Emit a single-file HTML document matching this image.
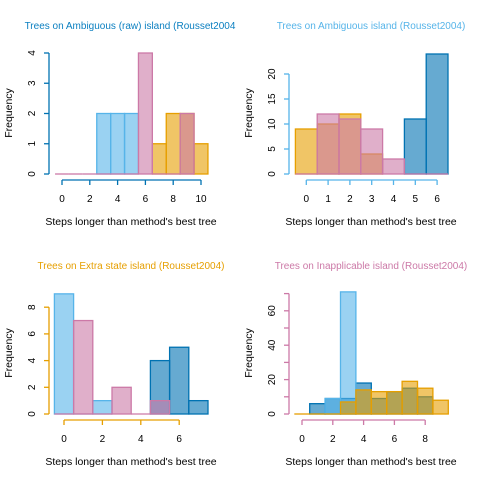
<!DOCTYPE html>
<html><head><meta charset="utf-8"><style>
body{margin:0;background:#fff}
svg text{font-family:"Liberation Sans",sans-serif;font-size:10px}
svg text.lab{font-size:10.5px}
</style></head><body>
<svg id="c" width="480" height="480" xmlns="http://www.w3.org/2000/svg"></svg>
<script>
// Panel 1: Ambiguous (raw)
const p1LightBlue=[null,null,null,2,2,2];
const p1DarkBlue=[];
const p1Orange=[null,null,null,null,null,null,null,1,2,2,1];
const p1Pink=[0,0,0,0,0,0,4,0,0,2];
// Panel 2: Ambiguous
const p2LightBlue=[];
const p2DarkBlue=[null,null,null,null,null,11,24];
const p2Orange=[9,10,12,4];
const p2Pink=[0,12,11,9,3,0,0];
// Panel 3: Extra state
const p3LightBlue=[9,0,1];
const p3DarkBlue=[null,null,null,null,null,4,5,1];
const p3Orange=[];
const p3Pink=[0,7,0,2,0,1];
// Panel 4: Inapplicable
const p4LightBlue=[null,null,9,71];
const p4DarkBlue=[null,6,9,9,18,9,13,15,10];
const p4Orange=[0,0,0,7,14,13,13,19,15,8];
const p4Pink=[];
const xTicks1=[0,2,4,6,8,10], yTicks1=[0,1,2,3,4], yLab1=[0,1,2,3,4];
const xTicks2=[0,1,2,3,4,5,6], yTicks2=[0,5,10,15,20], yLab2=[0,5,10,15,20];
const xTicks3=[0,2,4,6], yTicks3=[0,2,4,6,8], yLab3=[0,2,4,6,8];
const xTicks4=[0,2,4,6,8], yTicks4=[0,10,20,30,40,50,60,70], yLab4=[0,20,40,60];
const titles=["Trees on Ambiguous (raw) island (Rousset2004","Trees on Ambiguous island (Rousset2004)","Trees on Extra state island (Rousset2004)","Trees on Inapplicable island (Rousset2004)"];

const NS="http://www.w3.org/2000/svg";
const svg=document.getElementById('c');
function el(t,a,p){const e=document.createElementNS(NS,t);for(const k in a)e.setAttribute(k,a[k]);(p||svg).appendChild(e);return e;}
const SER=[["dark-blue","#0072B2","rgba(0,114,178,0.6)"],["light-blue","#56B4E9","rgba(86,180,233,0.6)"],["orange","#E69F00","rgba(230,159,0,0.6)"],["pink","#CC79A7","rgba(204,121,167,0.6)"]];
const panels=[
 {ox:0,oy:0,x0:62,sx:13.9,y0:174,sy:30.25,ax:"#0072B2",tc:"#0A7FC0",tx:130,xt:xTicks1,yt:yTicks1,yl:yLab1,xr:[0,10],yr:[0,4],data:[p1DarkBlue,p1LightBlue,p1Orange,p1Pink]},
 {ox:240,oy:0,x0:306.3,sx:21.8,y0:174,sy:5,ax:"#56B4E9",tc:"#56B4E9",tx:371,xt:xTicks2,yt:yTicks2,yl:yLab2,xr:[0,6],yr:[0,20],data:[p2DarkBlue,p2LightBlue,p2Orange,p2Pink]},
 {ox:0,oy:240,x0:64,sx:19.2,y0:414,sy:13.35,ax:"#E69F00",tc:"#E69F00",tx:131,xt:xTicks3,yt:yTicks3,yl:yLab3,xr:[0,6],yr:[0,8],data:[p3DarkBlue,p3LightBlue,p3Orange,p3Pink]},
 {ox:240,oy:240,x0:302,sx:15.4,y0:414,sy:1.72,ax:"#CC79A7",tc:"#CC79A7",tx:371,xt:xTicks4,yt:yTicks4,yl:yLab4,xr:[0,8],yr:[0,70],data:[p4DarkBlue,p4LightBlue,p4Orange,p4Pink]}
];
panels.forEach((p,i)=>{
 const g=el('g',{});
 
 
 const X=v=>p.x0+v*p.sx, Y=v=>p.y0-v*p.sy;
 const t=el('text',{x:p.tx,y:p.oy+29,'text-anchor':'middle',fill:p.tc},g);t.textContent=titles[i];
 
 p.data.forEach((arr,si)=>{
  arr.forEach((v,k)=>{
   if(v===null||v===undefined)return;
   let r;
   if(v===0){r=el('line',{x1:X(k-0.5),x2:X(k+0.5),y1:Y(0),y2:Y(0),stroke:SER[si][1],'stroke-width':1.3},g);}
   else r=el('rect',{x:X(k-0.5),y:Y(v),width:p.sx,height:v*p.sy,fill:SER[si][2],stroke:SER[si][1],'stroke-width':1.3},g);
   
   
  });
 });
 const ax=p.oy+180;
 const xa=el('g',{stroke:p.ax,'stroke-width':1.3,fill:'none'},g);
 
 el('line',{x1:X(p.xr[0]),x2:X(p.xr[1]),y1:ax,y2:ax},xa);
 p.xt.forEach(v=>{el('line',{x1:X(v),x2:X(v),y1:ax,y2:ax+5},xa);
  const tt=el('text',{x:X(v),y:ax+22,'text-anchor':'middle',fill:'#000',stroke:'none'},g);tt.textContent=v;
  });
 const ya=el('g',{stroke:p.ax,'stroke-width':1.3,fill:'none'},g);
 
 const yx=p.ox+49;
 el('line',{x1:yx,x2:yx,y1:Y(p.yr[0]),y2:Y(p.yr[1])},ya);
 p.yt.forEach(v=>el('line',{x1:yx,x2:yx-5,y1:Y(v),y2:Y(v)},ya));
 p.yl.forEach(v=>{const tt=el('text',{x:0,y:0,'text-anchor':'middle',fill:'#000',transform:`translate(${yx-14},${Y(v)}) rotate(-90)`},g);tt.textContent=v;
  });
 const xl=el('text',{x:p.ox+131,y:p.oy+225,'text-anchor':'middle',fill:'#000','class':'lab'},g);xl.textContent="Steps longer than method's best tree";
 
 const yl=el('text',{x:0,y:0,'text-anchor':'middle',fill:'#000','class':'lab',transform:`translate(${p.ox+12},${p.oy+113}) rotate(-90)`},g);yl.textContent="Frequency";
 
});
</script>
</body></html>
